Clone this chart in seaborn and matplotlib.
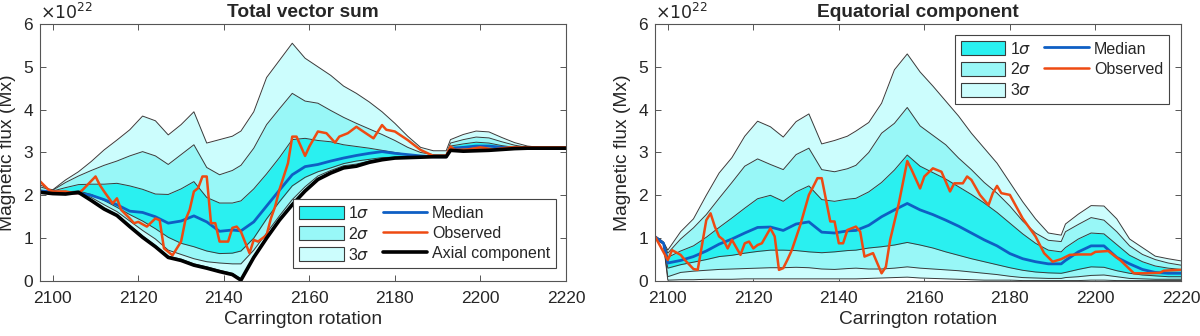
import matplotlib
matplotlib.use("Agg")
import matplotlib.pyplot as plt
from matplotlib.patches import Patch
from matplotlib.lines import Line2D
import seaborn as sns

sns.set_style("ticks")
plt.rcParams['font.family'] = ['Liberation Sans', 'DejaVu Sans']
plt.rcParams['mathtext.fontset'] = 'dejavusans'

# Carrington rotations for the uncertainty bands (values in 1e22 Mx)
cr = [2097, 2099, 2100, 2103, 2106, 2109, 2112, 2115, 2118, 2121, 2124,
      2127, 2130, 2133, 2136, 2139, 2142, 2144, 2147, 2150, 2153, 2156,
      2159, 2162, 2165, 2168, 2171, 2174, 2177, 2180, 2183, 2186, 2189,
      2192, 2193, 2196, 2199, 2202, 2205, 2208, 2211, 2214, 2217, 2220]

# --- Total vector sum ---
axial_l = [2.07, 2.05, 2.04, 2.03, 2.07, 1.88, 1.68, 1.53, 1.27, 1.02, 0.80,
           0.55, 0.48, 0.37, 0.30, 0.22, 0.15, 0.02, 0.55, 1.00, 1.42, 1.78,
           2.10, 2.37, 2.52, 2.64, 2.68, 2.77, 2.83, 2.87, 2.88, 2.89, 2.90,
           2.90, 3.05, 3.03, 3.04, 3.05, 3.07, 3.09, 3.10, 3.10, 3.10, 3.10]
s3lo_l = [2.08, 2.06, 2.05, 2.04, 2.08, 1.90, 1.70, 1.55, 1.30, 1.05, 0.83,
          0.58, 0.51, 0.40, 0.33, 0.25, 0.18, 0.05, 0.58, 1.03, 1.45, 1.81,
          2.13, 2.40, 2.55, 2.66, 2.70, 2.79, 2.85, 2.88, 2.89, 2.90, 2.90,
          2.90, 3.05, 3.03, 3.04, 3.05, 3.07, 3.09, 3.10, 3.10, 3.10, 3.10]
s2lo_l = [2.09, 2.07, 2.06, 2.06, 2.09, 1.95, 1.78, 1.62, 1.40, 1.18, 0.98,
          0.72, 0.62, 0.52, 0.45, 0.42, 0.40, 0.40, 0.72, 1.12, 1.52, 1.90,
          2.20, 2.45, 2.58, 2.69, 2.73, 2.80, 2.86, 2.88, 2.89, 2.90, 2.90,
          2.90, 3.05, 3.04, 3.05, 3.06, 3.08, 3.09, 3.10, 3.10, 3.10, 3.10]
s1lo_l = [2.10, 2.08, 2.07, 2.08, 2.10, 2.02, 1.88, 1.72, 1.55, 1.40, 1.22,
          1.02, 0.88, 0.80, 0.70, 0.64, 0.65, 0.70, 1.00, 1.45, 1.85, 2.22,
          2.42, 2.55, 2.64, 2.74, 2.80, 2.84, 2.88, 2.89, 2.90, 2.90, 2.90,
          2.90, 3.06, 3.07, 3.08, 3.08, 3.09, 3.10, 3.10, 3.10, 3.10, 3.10]
med_l = [2.10, 2.09, 2.08, 2.06, 2.05, 2.00, 1.90, 1.78, 1.63, 1.60, 1.50,
         1.35, 1.40, 1.52, 1.38, 1.16, 1.19, 1.17, 1.38, 1.75, 2.12, 2.48,
         2.67, 2.72, 2.80, 2.87, 2.93, 2.98, 3.02, 2.98, 2.95, 2.92, 2.90,
         2.90, 3.10, 3.12, 3.15, 3.15, 3.12, 3.10, 3.10, 3.10, 3.10, 3.10]
s1hi_l = [2.12, 2.10, 2.10, 2.18, 2.25, 2.26, 2.26, 2.28, 2.22, 2.14, 2.03,
          2.02, 2.15, 2.32, 1.95, 1.82, 1.82, 1.87, 2.15, 2.50, 2.88, 3.30,
          3.33, 3.28, 3.25, 3.18, 3.14, 3.10, 3.05, 3.00, 2.95, 2.92, 2.91,
          2.92, 3.15, 3.20, 3.24, 3.22, 3.16, 3.12, 3.10, 3.10, 3.10, 3.10]
s2hi_l = [2.20, 2.14, 2.12, 2.30, 2.45, 2.58, 2.70, 2.80, 2.92, 3.02, 2.92,
          2.72, 2.95, 3.18, 2.65, 2.48, 2.58, 2.70, 3.10, 3.65, 4.02, 4.38,
          4.20, 4.15, 3.98, 3.82, 3.68, 3.55, 3.42, 3.28, 3.12, 3.00, 2.95,
          2.95, 3.22, 3.30, 3.36, 3.34, 3.25, 3.17, 3.12, 3.10, 3.10, 3.10]
s3hi_l = [2.25, 2.15, 2.13, 2.36, 2.55, 2.79, 3.06, 3.29, 3.53, 3.85, 3.74,
          3.41, 3.65, 3.95, 3.22, 3.30, 3.38, 3.50, 3.95, 4.75, 5.15, 5.55,
          5.20, 5.00, 4.80, 4.55, 4.38, 4.18, 3.95, 3.68, 3.38, 3.12, 3.04,
          3.04, 3.30, 3.42, 3.50, 3.48, 3.35, 3.23, 3.15, 3.12, 3.10, 3.10]

obs_cr_l = [2097, 2099, 2100, 2103, 2105, 2106, 2107, 2110, 2111, 2112,
            2114, 2115, 2116, 2118, 2119, 2120, 2122, 2124, 2125, 2126,
            2128, 2130, 2131, 2132, 2133, 2134, 2135, 2136, 2137, 2138,
            2139, 2141, 2142, 2143, 2144, 2146, 2147, 2148, 2150, 2151,
            2152, 2153, 2155, 2156, 2157, 2159, 2160, 2162, 2164, 2166,
            2167, 2169, 2171, 2172, 2175, 2177, 2178, 2180, 2183, 2186,
            2189, 2192, 2193, 2194, 2197, 2200, 2203, 2207, 2220]
obs_l = [2.33, 2.13, 2.09, 2.09, 2.05, 2.05, 2.13, 2.44, 2.24, 2.09,
         1.81, 1.93, 1.66, 1.46, 1.35, 1.38, 1.27, 1.46, 1.42, 0.76,
         0.60, 0.92, 1.42, 1.66, 2.09, 2.17, 2.44, 2.44, 1.35, 1.35,
         0.92, 0.92, 1.24, 1.27, 1.15, 0.65, 0.96, 0.92, 1.07, 1.46,
         1.74, 2.13, 2.75, 3.37, 3.37, 2.92, 3.14, 3.49, 3.45, 3.23,
         3.37, 3.45, 3.60, 3.53, 3.33, 3.64, 3.53, 3.49, 3.29, 3.06,
         2.92, 2.92, 3.14, 3.06, 3.07, 3.12, 3.07, 3.12, 3.12]

# --- Equatorial component ---
s3lo_r = [0.98, 0.86, 0.02, 0.03, 0.03, 0.04, 0.04, 0.04, 0.05, 0.05, 0.05,
          0.05, 0.05, 0.05, 0.05, 0.05, 0.05, 0.05, 0.06, 0.07, 0.08, 0.09,
          0.07, 0.06, 0.05, 0.04, 0.03, 0.02, 0.02, 0.02, 0.01, 0.01, 0.01,
          0.01, 0.01, 0.01, 0.02, 0.02, 0.01, 0.01, 0.01, 0.01, 0.01, 0.01]
s2lo_r = [0.99, 0.87, 0.10, 0.20, 0.23, 0.25, 0.27, 0.28, 0.29, 0.30, 0.31,
          0.31, 0.32, 0.31, 0.28, 0.27, 0.29, 0.30, 0.28, 0.28, 0.30, 0.33,
          0.30, 0.28, 0.26, 0.24, 0.21, 0.18, 0.15, 0.11, 0.08, 0.07, 0.06,
          0.06, 0.08, 0.10, 0.13, 0.14, 0.10, 0.06, 0.05, 0.04, 0.04, 0.04]
s1lo_r = [1.00, 0.88, 0.30, 0.38, 0.44, 0.50, 0.57, 0.60, 0.65, 0.69, 0.72,
          0.72, 0.71, 0.68, 0.66, 0.68, 0.71, 0.72, 0.77, 0.80, 0.84, 0.90,
          0.84, 0.77, 0.68, 0.60, 0.52, 0.45, 0.38, 0.31, 0.25, 0.21, 0.19,
          0.18, 0.20, 0.27, 0.33, 0.32, 0.24, 0.18, 0.14, 0.12, 0.10, 0.10]
med_r = [1.03, 0.88, 0.42, 0.48, 0.57, 0.70, 0.86, 0.98, 1.12, 1.25, 1.26,
         1.18, 1.33, 1.38, 1.14, 1.12, 1.17, 1.18, 1.30, 1.50, 1.66, 1.81,
         1.66, 1.55, 1.42, 1.28, 1.12, 0.96, 0.82, 0.64, 0.52, 0.45, 0.40,
         0.40, 0.48, 0.68, 0.82, 0.82, 0.55, 0.40, 0.27, 0.20, 0.18, 0.18]
s1hi_r = [1.04, 0.89, 0.55, 0.70, 0.82, 1.02, 1.25, 1.47, 1.70, 1.92, 2.00,
          1.86, 2.08, 2.22, 1.90, 1.86, 1.91, 1.93, 2.08, 2.30, 2.59, 2.94,
          2.68, 2.53, 2.38, 2.20, 2.02, 1.82, 1.60, 1.35, 1.10, 0.88, 0.72,
          0.68, 0.78, 0.98, 1.12, 1.10, 0.85, 0.60, 0.45, 0.35, 0.30, 0.27]
s2hi_r = [1.05, 0.90, 0.65, 0.98, 1.24, 1.55, 1.93, 2.30, 2.68, 2.85, 2.72,
          2.60, 2.95, 3.10, 2.60, 2.55, 2.62, 2.70, 3.00, 3.45, 3.68, 4.05,
          3.62, 3.40, 3.18, 2.87, 2.60, 2.30, 2.05, 1.75, 1.40, 1.12, 0.95,
          0.92, 1.15, 1.32, 1.48, 1.42, 1.15, 0.82, 0.62, 0.50, 0.42, 0.37]
s3hi_r = [1.06, 0.91, 0.72, 1.15, 1.45, 2.00, 2.52, 2.88, 3.38, 3.73, 3.60,
          3.36, 3.72, 3.90, 3.20, 3.28, 3.38, 3.50, 3.70, 4.15, 4.93, 5.30,
          4.88, 4.55, 4.20, 3.85, 3.45, 3.10, 2.75, 2.30, 1.85, 1.45, 1.12,
          1.07, 1.33, 1.56, 1.76, 1.75, 1.45, 0.98, 0.78, 0.58, 0.52, 0.47]

obs_cr_r = [2097, 2100, 2101, 2103, 2104, 2106, 2107, 2109, 2110, 2111,
            2112, 2113, 2114, 2115, 2117, 2118, 2119, 2120, 2121, 2122,
            2124, 2125, 2126, 2127, 2128, 2129, 2131, 2133, 2134, 2135,
            2136, 2138, 2139, 2140, 2141, 2142, 2144, 2145, 2146, 2148,
            2150, 2151, 2152, 2154, 2155, 2156, 2157, 2159, 2160, 2162,
            2164, 2166, 2167, 2169, 2170, 2171, 2173, 2175, 2176, 2177,
            2178, 2180, 2183, 2186, 2188, 2190, 2192, 2194, 2196, 2199,
            2200, 2203, 2206, 2209, 2212, 2215, 2216, 2220]
obs_r = [1.04, 0.49, 0.72, 0.61, 0.49, 0.28, 0.26, 1.42, 1.58, 1.27,
         1.04, 0.96, 0.76, 0.96, 0.61, 0.88, 0.92, 0.76, 0.84, 0.88,
         1.23, 1.04, 0.26, 0.30, 0.50, 0.72, 1.31, 2.01, 2.20, 2.40,
         2.40, 1.39, 1.39, 0.88, 0.88, 1.19, 1.27, 1.15, 0.57, 0.65,
         0.18, 0.33, 0.96, 1.80, 2.30, 2.80, 2.60, 2.16, 2.44, 2.63,
         2.55, 2.09, 2.28, 2.28, 2.44, 2.36, 2.01, 1.77, 2.05, 2.22,
         2.05, 2.01, 1.46, 1.04, 0.65, 0.45, 0.51, 0.61, 0.62, 0.62,
         0.68, 0.70, 0.47, 0.18, 0.18, 0.19, 0.24, 0.26]

C1, C2, C3 = '#2AF0F0', '#98F7F7', '#CCFDFD'
EDGE = '#3a3a3a'
BLUE = '#0E5FC4'
RED = '#EE4A12'
TICK_FS = 12.5
LABEL_FS = 13.75


def draw_panel(ax, lo, hi, med, ocr, obs, title, axial=None):
    cols = [C3, C2, C1]
    for (l, h), c in zip(zip(lo, hi), cols):
        ax.fill_between(cr, l, h, color=c, lw=0)
    for s in lo + hi:
        sns.lineplot(x=cr, y=s, ax=ax, color=EDGE, lw=0.7, estimator=None, sort=False)
    sns.lineplot(x=cr, y=med, ax=ax, color=BLUE, lw=2.0, estimator=None, sort=False)
    sns.lineplot(x=ocr, y=obs, ax=ax, color=RED, lw=1.8, estimator=None, sort=False)
    if axial is not None:
        sns.lineplot(x=cr, y=axial, ax=ax, color='black', lw=2.6, estimator=None, sort=False)

    ax.set_xlim(2097, 2220)
    ax.set_ylim(0, 6)
    ax.set_xticks(range(2100, 2221, 20))
    ax.set_yticks(range(0, 7))
    ax.tick_params(direction='in', top=True, right=True, labelsize=TICK_FS,
                   length=4, width=0.7, color='#555555')
    ax.tick_params(axis='x', pad=7)
    ax.tick_params(axis='y', pad=5)
    for sp in ax.spines.values():
        sp.set_visible(True)
        sp.set_color('#555555')
        sp.set_linewidth(0.8)
    ax.set_xlabel('Carrington rotation', fontsize=LABEL_FS, labelpad=4)
    ax.set_ylabel('Magnetic flux (Mx)', fontsize=LABEL_FS, labelpad=5)
    ax.set_title(title, fontsize=LABEL_FS, fontweight='bold', pad=5)
    ax.text(0.0, 1.008, r'$\times10^{22}$', transform=ax.transAxes,
            fontsize=TICK_FS, ha='left', va='bottom')


fig = plt.figure(figsize=(12, 3.36), dpi=100)
ax1 = fig.add_axes([0.0333, 0.1637, 0.4383, 0.765])
ax2 = fig.add_axes([0.5458, 0.1637, 0.4383, 0.765])

draw_panel(ax1, [s3lo_l, s2lo_l, s1lo_l], [s3hi_l, s2hi_l, s1hi_l], med_l,
           obs_cr_l, obs_l, 'Total vector sum', axial=axial_l)
draw_panel(ax2, [s3lo_r, s2lo_r, s1lo_r], [s3hi_r, s2hi_r, s1hi_r], med_r,
           obs_cr_r, obs_r, 'Equatorial component')

patches = [Patch(facecolor=C1, edgecolor=EDGE, lw=0.8, label=r'1$\sigma$'),
           Patch(facecolor=C2, edgecolor=EDGE, lw=0.8, label=r'2$\sigma$'),
           Patch(facecolor=C3, edgecolor=EDGE, lw=0.8, label=r'3$\sigma$')]
h_med = Line2D([], [], color=BLUE, lw=2.0, label='Median')
h_obs = Line2D([], [], color=RED, lw=1.8, label='Observed')
h_ax = Line2D([], [], color='black', lw=2.6, label='Axial component')

leg_kw = dict(ncol=2, fontsize=11.5, frameon=True, fancybox=False, edgecolor='#444444',
              framealpha=1, handlelength=2.8, handleheight=0.95, labelspacing=0.3,
              columnspacing=0.8, handletextpad=0.3, borderpad=0.35, borderaxespad=0)
l1 = ax1.legend(handles=patches + [h_med, h_obs, h_ax], loc='lower right',
                bbox_to_anchor=(0.981, 0.05), **leg_kw)
l2 = ax2.legend(handles=patches + [h_med, h_obs], loc='upper right',
                bbox_to_anchor=(0.977, 0.957), **leg_kw)
for lg in (l1, l2):
    lg.get_frame().set_linewidth(0.8)

fig.savefig('out.png', dpi=100)
